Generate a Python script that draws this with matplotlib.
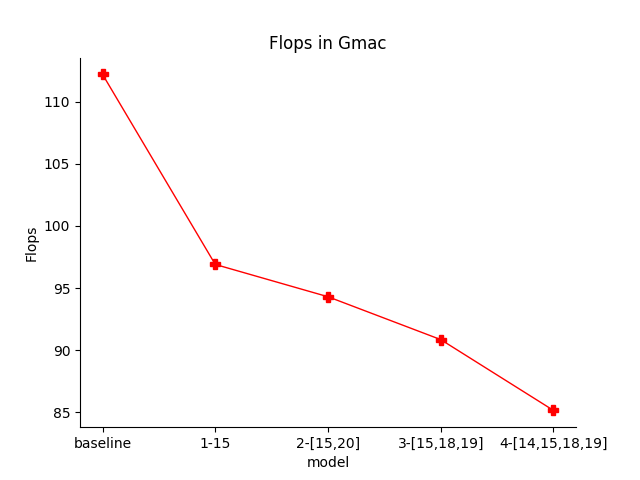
import matplotlib
matplotlib.use("Agg")
import matplotlib.pyplot as plt

models = ['baseline', '1-15', '2-[15,20]', '3-[15,18,19]', '4-[14,15,18,19]']
flops = [112.2, 96.9, 94.3, 90.85, 85.15]

fig, ax = plt.subplots(figsize=(6.4, 4.8), dpi=100)
ax.plot(models, flops, color='red', marker='P', linewidth=1, markersize=7)
ax.set_title('Flops in Gmac')
ax.set_xlabel('model')
ax.set_ylabel('Flops')
ax.spines['top'].set_visible(False)
ax.spines['right'].set_visible(False)
fig.savefig('out.png')
